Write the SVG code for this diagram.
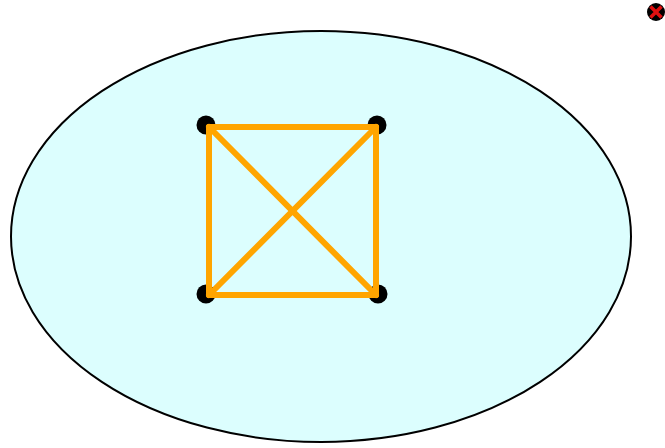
<svg xmlns="http://www.w3.org/2000/svg" width="665" height="448" viewBox="0 0 665 448">
<style>
.edge{stroke:#ffa500;stroke-width:6;stroke-linecap:round;fill:none}
.vert{fill:#000}
</style>
<rect width="665" height="448" fill="#fff"/>
<g id="region"><ellipse cx="321" cy="236.5" rx="310" ry="205.5" fill="#dcfefe" stroke="#000" stroke-width="2"/></g>
<g id="v1"><circle class="vert" cx="206" cy="125" r="9.5"/></g>
<g id="v2"><circle class="vert" cx="377" cy="125" r="9.5"/></g>
<g id="v3"><circle class="vert" cx="206" cy="294" r="9.5"/></g>
<g id="v4"><circle class="vert" cx="378" cy="294" r="9.5"/></g>
<g id="edges">
<line class="edge" x1="209" y1="127" x2="376" y2="127"/>
<line class="edge" x1="376" y1="127" x2="376" y2="295"/>
<line class="edge" x1="376" y1="295" x2="209" y2="295"/>
<line class="edge" x1="209" y1="295" x2="209" y2="127"/>
<line class="edge" x1="209" y1="127" x2="376" y2="295"/>
<line class="edge" x1="376" y1="127" x2="209" y2="295"/>
</g>
<g id="close"><circle cx="656" cy="12" r="9" fill="#000"/><path d="M650.5 6.5 L661.5 17.5 M661.5 6.5 L650.5 17.5" stroke="#e01010" stroke-width="3.5"/></g>
</svg>
